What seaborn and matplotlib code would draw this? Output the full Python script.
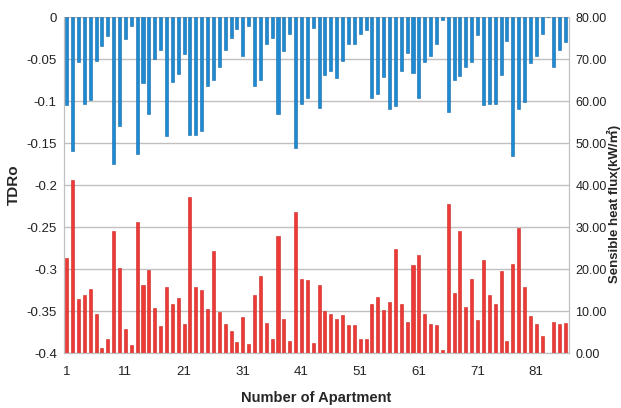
import numpy as np
import pandas as pd
import matplotlib
matplotlib.use("Agg")
import matplotlib.pyplot as plt
import seaborn as sns

# apartment numbers 1..86
apartments = list(range(1, 87))

# TDRo per apartment (left axis, bars hang from 0)
tdro = [
    -0.105, -0.159, -0.054, -0.103, -0.099, -0.052, -0.035, -0.023, -0.175, -0.130,
    -0.026, -0.011, -0.163, -0.079, -0.115, -0.050, -0.039, -0.142, -0.077, -0.068,
    -0.044, -0.141, -0.140, -0.136, -0.082, -0.075, -0.060, -0.039, -0.025, -0.014,
    -0.046, -0.011, -0.082, -0.075, -0.032, -0.025, -0.115, -0.040, -0.020, -0.156,
    -0.103, -0.097, -0.013, -0.108, -0.069, -0.064, -0.073, -0.052, -0.032, -0.032,
    -0.020, -0.016, -0.096, -0.092, -0.071, -0.109, -0.106, -0.064, -0.043, -0.067,
    -0.097, -0.053, -0.046, -0.032, -0.003, -0.113, -0.075, -0.070, -0.059, -0.053,
    -0.022, -0.105, -0.103, -0.103, -0.069, -0.028, -0.165, -0.109, -0.101, -0.055,
    -0.046, -0.020, 0.0, -0.060, -0.039, -0.030,
]

# sensible heat flux per apartment (right axis)
heat_flux = [
    22.6, 41.1, 12.9, 13.9, 15.3, 9.2, 1.2, 3.4, 29.0, 20.2,
    5.8, 1.8, 31.3, 16.1, 19.7, 10.6, 6.4, 15.6, 11.6, 13.1,
    7.0, 37.1, 15.6, 15.1, 10.4, 24.4, 9.8, 7.0, 5.2, 2.6,
    8.6, 2.1, 13.9, 18.3, 7.2, 3.4, 27.9, 8.0, 2.9, 33.6,
    17.7, 17.5, 2.4, 16.1, 9.9, 9.2, 8.0, 9.1, 6.6, 6.6,
    3.4, 3.3, 11.6, 13.3, 10.3, 12.1, 24.8, 11.6, 7.5, 20.9,
    23.4, 9.2, 7.0, 6.6, 0.6, 35.5, 14.4, 29.0, 11.0, 17.7,
    7.8, 22.2, 13.9, 11.6, 19.5, 2.9, 21.3, 29.8, 15.6, 8.7,
    7.0, 4.0, 0.0, 7.4, 7.0, 7.2,
]

left_ticks = [0, -0.05, -0.1, -0.15, -0.2, -0.25, -0.3, -0.35, -0.4]
left_labels = ["0", "-0.05", "-0.1", "-0.15", "-0.2", "-0.25", "-0.3", "-0.35", "-0.4"]
right_ticks = [0, 10, 20, 30, 40, 50, 60, 70, 80]
x_label_apts = [1, 11, 21, 31, 41, 51, 61, 71, 81]

df = pd.DataFrame({"apt": apartments, "tdro": tdro, "flux": heat_flux})

sns.set_style("white")
plt.rcParams["font.family"] = ["Liberation Sans", "Noto Sans CJK JP", "DejaVu Sans"]

fig = plt.figure(figsize=(6.21, 4.08), dpi=100)
ax = fig.add_axes([0.1027, 0.1348, 0.8128, 0.8235])
ax2 = ax.twinx()

sns.barplot(data=df, x="apt", y="tdro", ax=ax, color="#1e8ad2", edgecolor="#1668a6",
            linewidth=0.4, width=0.52, saturation=1.0, errorbar=None)
sns.barplot(data=df, x="apt", y="flux", ax=ax2, color="#ee3a36", edgecolor="#c92420",
            linewidth=0.4, width=0.52, saturation=1.0, errorbar=None)

ax.set_ylim(-0.4, 0)
ax2.set_ylim(0, 80)
ax.set_xlim(-0.5, len(apartments) - 0.5)

ax.set_yticks(left_ticks)
ax.set_yticklabels(left_labels)
ax2.set_yticks(right_ticks)
ax2.set_yticklabels(["%.2f" % v for v in right_ticks])

pos = [apartments.index(a) for a in x_label_apts]
ax.set_xticks(pos)
ax.set_xticklabels([str(a) for a in x_label_apts])

grid_c = "#c0c0c0"
ax.grid(axis="y", color=grid_c, linewidth=1.0)
ax.set_axisbelow(True)
for a in (ax, ax2):
    for s in a.spines.values():
        s.set_color(grid_c)
    a.spines["top"].set_visible(False)
ax.tick_params(axis="both", length=0, labelsize=9.5, colors="#222222")
ax.tick_params(axis="y", pad=5)
ax.tick_params(axis="x", pad=9)
ax2.tick_params(axis="y", length=0, labelsize=9, colors="#222222", pad=5)

ax.set_xlabel("Number of Apartment", fontsize=10.5, fontweight="bold", labelpad=10)
ax.set_ylabel("TDRo", fontsize=11, fontweight="bold", labelpad=4)
ax2.set_ylabel("")
ax2.set_xlabel("")
# right axis title sits at the very edge of the figure
fig.text(614 / 621, 0.5, "Sensible heat flux(kW/㎡)", rotation=90, ha="center", va="center",
         fontsize=9.5, fontweight="bold")

fig.savefig("out.png", dpi=100)
